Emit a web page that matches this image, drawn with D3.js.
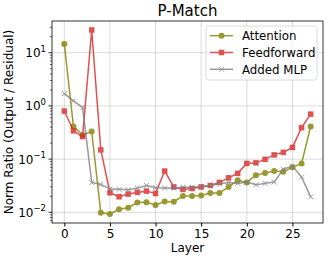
<!DOCTYPE html>
<html>
<head>
<meta charset="utf-8">
<script src="https://cdn.jsdelivr.net/npm/d3@7"></script>
<style>
  body { margin: 0; background: #fff; }
  text { font-family: "DejaVu Sans", sans-serif; fill: #000; }
</style>
</head>
<body>
<div id="container"></div>
<script>
let w = 329;
let h = 259;

// data
let layers = d3.range(0, 28);
let attention = [14.6, 0.41, 0.285, 0.33, 0.0098, 0.0093, 0.0114, 0.0122, 0.0153, 0.0155,
  0.0138, 0.016, 0.0158, 0.0202, 0.0202, 0.0207, 0.023, 0.023, 0.030, 0.040,
  0.0365, 0.050, 0.055, 0.060, 0.058, 0.070, 0.083, 0.41];
let feedforward = [0.80, 0.34, 0.265, 26.7, 0.149, 0.0233, 0.0196, 0.022, 0.0237, 0.025,
  0.0226, 0.0596, 0.030, 0.0269, 0.028, 0.030, 0.032, 0.0365, 0.0445, 0.054,
  0.083, 0.085, 0.099, 0.12, 0.134, 0.166, 0.39, 0.70];
let addedMLP = [1.70, 1.24, 0.94, 0.0364, 0.0334, 0.0273, 0.027, 0.0265, 0.0285, 0.032,
  0.029, 0.0285, 0.0285, 0.0297, 0.0297, 0.0307, 0.032, 0.0343, 0.0365, 0.035,
  0.037, 0.033, 0.035, 0.037, 0.065, 0.074, 0.046, 0.0195];
let xTicks = [0, 5, 10, 15, 20, 25];
let yTicks = [0.01, 0.1, 1, 10];

let series = [
  {name: "Attention", values: attention, color: "#808000", marker: "circle"},
  {name: "Feedforward", values: feedforward, color: "#d62728", marker: "square"},
  {name: "Added MLP", values: addedMLP, color: "#7f7f7f", marker: "x"}
];

let pLeft = 52, pRight = 323, pTop = 21, pBottom = 223;

let viz = d3.select("#container")
  .append("svg")
    .attr("width", w)
    .attr("height", h);

let xScale = d3.scaleLinear().domain([-1.35, 28.35]).range([pLeft, pRight]);
let yScale = d3.scaleLog().domain([0.0063, 39.4]).range([pBottom, pTop]);

// grid
let grid = viz.append("g");
grid.selectAll(".gx").data(xTicks).enter().append("line")
  .attr("x1", d => xScale(d)).attr("x2", d => xScale(d))
  .attr("y1", pTop).attr("y2", pBottom)
  .attr("stroke", "#b0b0b0").attr("stroke-opacity", 0.6).attr("stroke-width", 0.8);
grid.selectAll(".gy").data(yTicks).enter().append("line")
  .attr("x1", pLeft).attr("x2", pRight)
  .attr("y1", d => yScale(d)).attr("y2", d => yScale(d))
  .attr("stroke", "#b0b0b0").attr("stroke-opacity", 0.6).attr("stroke-width", 0.8);

// axes
let xAxis = d3.axisBottom(xScale).tickValues(xTicks).tickSize(3.5).tickPadding(3).tickFormat(d3.format("d"));
let xAxisGroup = viz.append("g").attr("transform", "translate(0," + pBottom + ")").call(xAxis);
xAxisGroup.select(".domain").remove();
xAxisGroup.selectAll("text").style("font-size", "12px").style("font-family", "DejaVu Sans");

// minor ticks on log scale
let minor = [];
[0.001, 0.01, 0.1, 1, 10].forEach(function(dec){
  for (let k = 2; k <= 9; k++) {
    let v = dec * k;
    if (v >= 0.0063 && v <= 39.4) minor.push(v);
  }
});
let yAxisGroup = viz.append("g").attr("transform", "translate(" + pLeft + ",0)");
yAxisGroup.selectAll(".minor").data(minor).enter().append("line")
  .attr("x1", -2).attr("x2", 0)
  .attr("y1", d => yScale(d)).attr("y2", d => yScale(d))
  .attr("stroke", "#000").attr("stroke-width", 0.6);
yAxisGroup.selectAll(".major").data(yTicks).enter().append("line")
  .attr("x1", -3.5).attr("x2", 0)
  .attr("y1", d => yScale(d)).attr("y2", d => yScale(d))
  .attr("stroke", "#000").attr("stroke-width", 0.8);
let ylab = yAxisGroup.selectAll(".lab").data(yTicks).enter().append("text")
  .attr("x", -6).attr("y", d => yScale(d) + 4.5)
  .attr("text-anchor", "end")
  .style("font-size", "12px");
ylab.append("tspan").text("10");
ylab.append("tspan").attr("dy", -5.5).style("font-size", "8.5px")
  .text(d => String(Math.round(Math.log10(d))).replace("-", "\u2212"));

// frame
viz.append("rect").attr("x", pLeft).attr("y", pTop)
  .attr("width", pRight - pLeft).attr("height", pBottom - pTop)
  .attr("fill", "none").attr("stroke", "#000").attr("stroke-width", 0.8);

// lines
let line = d3.line().x((d, i) => xScale(layers[i])).y(d => yScale(d));

function drawMarker(sel, s, size) {
  if (s.marker == "circle") {
    sel.append("circle").attr("r", size * 0.6).attr("fill", s.color);
  } else if (s.marker == "square") {
    sel.append("rect").attr("x", -size * 0.55).attr("y", -size * 0.55)
      .attr("width", size * 1.1).attr("height", size * 1.1).attr("fill", s.color);
  } else {
    sel.append("path").attr("d", "M-2.4,-2.4L2.4,2.4M-2.4,2.4L2.4,-2.4")
      .attr("stroke", s.color).attr("stroke-width", 1);
  }
}

let plot = viz.append("g");
series.forEach(function(s){
  let g = plot.append("g").attr("opacity", 0.8);
  g.append("path").datum(s.values)
    .attr("d", line)
    .attr("fill", "none")
    .attr("stroke", s.color)
    .attr("stroke-width", 1.5);
  g.selectAll(".pt").data(s.values).enter().append("g")
    .attr("transform", (d, i) => "translate(" + xScale(layers[i]) + "," + yScale(d) + ")")
    .each(function(){ drawMarker(d3.select(this), s, 5); });
});

// labels
viz.append("text").attr("x", (pLeft + pRight) / 2).attr("y", 16)
  .attr("text-anchor", "middle").style("font-size", "15px").text("P-Match");
viz.append("text").attr("x", (pLeft + pRight) / 2).attr("y", 252)
  .attr("text-anchor", "middle").style("font-size", "12px").text("Layer");
viz.append("text")
  .attr("transform", "translate(13," + ((pTop + pBottom) / 2) + ") rotate(-90)")
  .attr("text-anchor", "middle").style("font-size", "12px")
  .text("Norm Ratio (Output / Residual)");

// legend
let legend = viz.append("g");
legend.append("rect").attr("x", 206).attr("y", 26).attr("width", 111).attr("height", 54)
  .attr("rx", 2.5).attr("fill", "#fff").attr("fill-opacity", 0.8)
  .attr("stroke", "#d0d0d0").attr("stroke-width", 0.8);
series.forEach(function(s, i){
  let y = 35.7 + i * 16.8;
  let g = legend.append("g").attr("opacity", 0.8);
  g.append("line").attr("x1", 210).attr("x2", 233).attr("y1", y).attr("y2", y)
    .attr("stroke", s.color).attr("stroke-width", 1.5);
  let m = g.append("g").attr("transform", "translate(221.5," + y + ")");
  drawMarker(m, s, 5);
  legend.append("text").attr("x", 242).attr("y", y + 4.2)
    .style("font-size", "11.8px").text(s.name);
});
</script>
</body>
</html>
